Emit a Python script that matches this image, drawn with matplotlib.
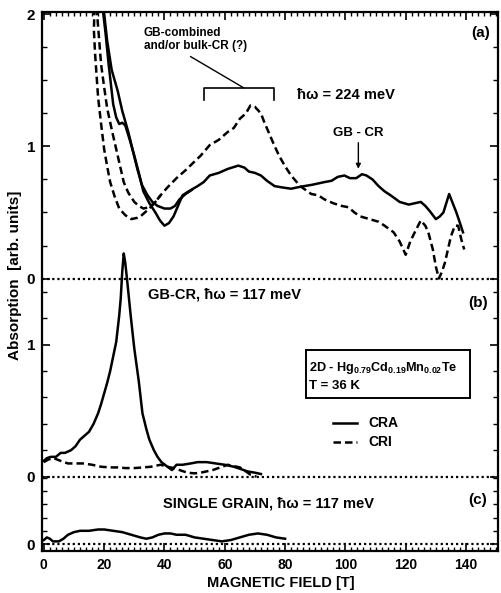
import matplotlib
matplotlib.use('Agg')
import matplotlib.pyplot as plt
import numpy as np
from matplotlib.patches import Rectangle

plt.rcParams['font.family'] = ['Liberation Sans', 'DejaVu Sans']
plt.rcParams['font.weight'] = 'bold'
plt.rcParams['mathtext.fontset'] = 'custom'
plt.rcParams['mathtext.rm'] = 'Liberation Sans:bold'
plt.rcParams['mathtext.it'] = 'Liberation Sans:italic:bold'
plt.rcParams['mathtext.bf'] = 'Liberation Sans:bold'
plt.rcParams['mathtext.default'] = 'rm'

# vertical offsets of the three stacked panels (arb. units)
OFF_A = 2.01
OFF_B = 0.51
OFF_C = 0.0

# (a) hw = 224 meV, CRA (solid), full trace
a_cra_x = [19.5, 20.5, 21.5, 23, 24, 25, 26, 27, 28.5, 30, 31.5, 33, 35, 37, 38.5, 40, 41.5, 43, 44.5, 46,
           48, 51, 53, 55, 58, 61, 64.5, 66.5, 68, 70, 72, 74, 76.5, 79, 82, 84, 86.4, 89, 91, 93, 95.4,
           97.5, 99.7, 101.5, 103.6, 105.5, 107, 109, 111, 113, 115, 118, 121, 123, 125, 126.5, 128, 130,
           131.3, 132.5, 134.4, 135.6, 136.8, 138, 139]
a_cra_y = [2.05, 1.85, 1.62, 1.32, 1.22, 1.17, 1.18, 1.16, 1.05, 0.93, 0.80, 0.66, 0.57, 0.50, 0.44, 0.40,
           0.42, 0.47, 0.55, 0.63, 0.66, 0.70, 0.73, 0.78, 0.80, 0.83, 0.855, 0.84, 0.81, 0.80, 0.78, 0.74,
           0.70, 0.69, 0.68, 0.69, 0.70, 0.71, 0.72, 0.73, 0.74, 0.77, 0.78, 0.76, 0.76, 0.79, 0.78, 0.75,
           0.70, 0.66, 0.63, 0.58, 0.56, 0.57, 0.58, 0.55, 0.51, 0.45, 0.47, 0.50, 0.64, 0.57, 0.50, 0.42,
           0.35]
# (a) second CRA trace, only where it separates from the first
a_cra2_x = [19.8, 21, 22.5, 24.5, 26, 28, 29.5, 31, 32.5, 34.4, 36, 37.7, 40, 42, 43.5, 45, 47, 49]
a_cra2_y = [2.05, 1.80, 1.58, 1.42, 1.27, 1.11, 0.97, 0.83, 0.71, 0.63, 0.58, 0.55, 0.53, 0.53, 0.55,
            0.60, 0.64, 0.67]

# (a) CRI (dashed), full trace
a_cri_x = [16.8, 16.6, 17, 18, 19, 20, 21, 22, 23.5, 25, 27, 29, 31, 32, 33.5, 35, 37, 38.7, 41, 44, 47,
           49.7, 52, 55, 58, 61, 63, 65, 67, 68.5, 70, 72, 73, 74.5, 76, 78, 80, 82, 85, 88.7, 91, 93, 96,
           98.7, 101, 103, 105, 108, 111, 113, 116, 118, 120, 121.5, 123, 125, 126.5, 127.5, 129, 130,
           131, 132, 133, 134, 135, 136.3, 137.4, 138.4, 139.4]
a_cri_y = [2.05, 1.88, 1.70, 1.37, 1.17, 0.98, 0.85, 0.73, 0.62, 0.53, 0.48, 0.45, 0.46, 0.47, 0.50,
           0.53, 0.58, 0.63, 0.69, 0.76, 0.82, 0.88, 0.93, 1.01, 1.05, 1.11, 1.14, 1.21, 1.25, 1.31, 1.30,
           1.25, 1.19, 1.11, 1.03, 0.93, 0.85, 0.78, 0.70, 0.64, 0.63, 0.60, 0.57, 0.55, 0.54, 0.50, 0.47,
           0.45, 0.43, 0.40, 0.35, 0.28, 0.18, 0.28, 0.35, 0.44, 0.40, 0.35, 0.22, 0.09, 0.0, 0.05, 0.12,
           0.22, 0.32, 0.40, 0.40, 0.30, 0.22]
# (a) second CRI trace, only where it separates
a_cri2_x = [17.5, 18.2, 19, 20, 21, 22.5, 24, 25.3, 26.5, 28, 30, 31.5, 33, 35, 37, 38.7]
a_cri2_y = [2.05, 1.85, 1.62, 1.45, 1.29, 1.13, 0.98, 0.85, 0.73, 0.65, 0.58, 0.55, 0.53, 0.54, 0.58,
            0.63]

# (b) GB-CR, hw = 117 meV
b_cra_x = [0, 1, 2.3, 4, 5.6, 7, 9, 10.5, 12, 13.5, 15, 16.5, 18, 19, 20, 21, 22, 23, 24, 25, 25.5, 26,
           26.5, 27, 27.7, 28.8, 30, 31.5, 32.7, 34, 35, 36.5, 37.7, 39, 41, 42.5, 44, 46, 48.7, 51, 54,
           57, 60, 63, 65, 67.5, 70, 72]
b_cra_y = [0.12, 0.14, 0.15, 0.15, 0.18, 0.18, 0.20, 0.23, 0.28, 0.31, 0.34, 0.40, 0.48, 0.55, 0.63,
           0.71, 0.80, 0.91, 1.02, 1.22, 1.35, 1.55, 1.69, 1.62, 1.47, 1.22, 0.97, 0.72, 0.48, 0.36, 0.28,
           0.20, 0.15, 0.11, 0.075, 0.05, 0.09, 0.09, 0.10, 0.11, 0.11, 0.10, 0.09, 0.075, 0.06, 0.04,
           0.03, 0.02]
b_cri_x = [0, 1.5, 3.3, 5.5, 8, 10.5, 13, 16, 19, 22, 24.5, 27, 30, 33, 35.5, 38.7, 41, 43, 45, 47.6, 50,
           52, 54, 56, 58.5, 61, 63, 65, 67, 68.5, 70.5]
b_cri_y = [0.11, 0.13, 0.14, 0.12, 0.10, 0.10, 0.10, 0.09, 0.075, 0.07, 0.07, 0.065, 0.065, 0.07, 0.075,
           0.09, 0.075, 0.065, 0.05, 0.03, 0.025, 0.03, 0.04, 0.05, 0.07, 0.09, 0.08, 0.07, 0.04, 0.015,
           0.0]

# (c) single grain, hw = 117 meV
c_x = [0, 1, 2, 3, 5, 6.5, 8, 10, 12, 15, 18, 20, 23, 26, 29, 32, 34, 36, 38, 40, 42, 44, 47, 50, 53, 56,
       59, 62, 65, 68, 71, 74, 77, 80]
c_y = [0.03, 0.05, 0.04, 0.02, 0.02, 0.04, 0.07, 0.09, 0.10, 0.10, 0.11, 0.11, 0.10, 0.09, 0.07, 0.05,
       0.04, 0.05, 0.07, 0.08, 0.08, 0.07, 0.07, 0.05, 0.04, 0.03, 0.02, 0.03, 0.05, 0.07, 0.08, 0.07,
       0.05, 0.04]

x_ticks = [0, 20, 40, 60, 80, 100, 120, 140]

fig = plt.figure(figsize=(5.02, 5.93), dpi=100)
ax = fig.add_axes([0.0837, 0.0708, 0.9083, 0.9094])

lw = 1.8
dash = (0, (3.0, 1.6))
ax.plot(a_cra_x, np.array(a_cra_y) + OFF_A, color='black', lw=lw)
ax.plot(a_cra2_x, np.array(a_cra2_y) + OFF_A, color='black', lw=lw)
ax.plot(a_cri_x, np.array(a_cri_y) + OFF_A, color='black', lw=lw, linestyle=dash)
ax.plot(a_cri2_x, np.array(a_cri2_y) + OFF_A, color='black', lw=lw, linestyle=dash)
ax.plot(b_cra_x, np.array(b_cra_y) + OFF_B, color='black', lw=lw)
ax.plot(b_cri_x, np.array(b_cri_y) + OFF_B, color='black', lw=lw, linestyle=dash)
ax.plot(c_x, np.array(c_y) + OFF_C, color='black', lw=lw)

# dotted zero lines of each panel
for off in (OFF_A, OFF_B, OFF_C):
    ax.axhline(off, color='black', lw=1.6, linestyle=(0, (1, 1.3)))

ax.set_xlim(-0.6, 150.6)
ax.set_ylim(-0.053, 4.03)

# x ticks on top and bottom, pointing in
ax.set_xticks(x_ticks)
ax.set_xticklabels([str(v) for v in x_ticks], fontsize=10, fontweight='bold')
ax.set_xticks(np.arange(0, 151, 2), minor=True)
ax.tick_params(axis='x', which='both', direction='in', top=True, bottom=True)
ax.tick_params(axis='x', which='major', length=6, width=1.2, pad=5)
ax.tick_params(axis='x', which='minor', length=3, width=1.0)

# y ticks: 0/1/2 labels per panel
y_major = [OFF_A + 2, OFF_A + 1, OFF_A, OFF_B + 1, OFF_B, OFF_C]
y_labels = ['2', '1', '0', '1', '0', '0']
ax.set_yticks(y_major)
ax.set_yticklabels(y_labels, fontsize=11, fontweight='bold')
y_minor = list(np.arange(OFF_A, OFF_A + 2.01, 0.25)) + list(np.arange(OFF_B, OFF_A, 0.2)) + \
          list(np.arange(OFF_C, OFF_B, 0.1))
ax.set_yticks(y_minor, minor=True)
ax.tick_params(axis='y', which='both', direction='in', left=True, right=True)
ax.tick_params(axis='y', which='major', length=6, width=1.2, pad=5)
ax.tick_params(axis='y', which='minor', length=3.5, width=1.0)

for sp in ax.spines.values():
    sp.set_linewidth(1.6)

# annotations for panel (a)
ax.text(33.1, 3.82, 'GB-combined\nand/or bulk-CR (?)', fontsize=8.5, ha='left', va='center',
        linespacing=1.05)
ax.plot([48.7, 66.2], [3.69, 3.455], color='black', lw=1.0)
ax.plot([53, 53, 76.2, 76.2], [3.36, 3.455, 3.455, 3.36], color='black', lw=1.2)
ax.text(83.8, 3.40, 'ħω = 224 meV', fontsize=10.5, ha='left', va='center')
ax.text(104.3, 3.11, 'GB - CR', fontsize=9.5, ha='center', va='center')
ax.annotate('', xy=(104.3, 2.82), xytext=(104.3, 3.06),
            arrowprops=dict(arrowstyle='-|>', color='black', lw=1.0, mutation_scale=7))
ax.text(145, 3.87, '(a)', fontsize=11, ha='center', va='center')

# panel (b)
ax.text(34.4, 1.886, 'GB-CR, ħω = 117 meV', fontsize=10.5, ha='left', va='center')
ax.text(144, 1.826, '(b)', fontsize=11, ha='center', va='center')
ax.add_patch(Rectangle((87.1, 1.106), 54.3, 0.364, fill=False, edgecolor='black', lw=1.4))
ax.text(87.9, 1.335, r'2D - Hg$_{0.79}$Cd$_{0.19}$Mn$_{0.02}$Te', fontsize=9.1, ha='left', va='center')
ax.text(87.9, 1.195, 'T = 36 K', fontsize=9.5, ha='left', va='center')

# legend drawn by hand
ax.plot([96, 104], [0.917, 0.917], color='black', lw=lw)
ax.plot([96, 104], [0.773, 0.773], color='black', lw=lw, linestyle=dash)
ax.text(107.5, 0.917, 'CRA', fontsize=10, ha='left', va='center')
ax.text(107.5, 0.773, 'CRI', fontsize=10, ha='left', va='center')

# panel (c)
ax.text(39.4, 0.31, 'SINGLE GRAIN, ħω = 117 meV', fontsize=10.5, ha='left', va='center')
ax.text(144, 0.333, '(c)', fontsize=11, ha='center', va='center')

fig.text(0.03, 0.536, 'Absorption  [arb. units]', rotation=90, fontsize=11, ha='center', va='center')
fig.text(0.56, 0.017, 'MAGNETIC FIELD [T]', fontsize=10.5, ha='center', va='center')

fig.savefig('out.png', dpi=100)
